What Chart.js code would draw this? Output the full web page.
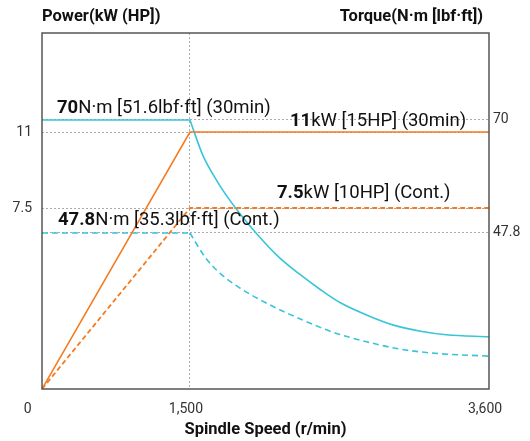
<!DOCTYPE html>
<html>
<head>
<meta charset="utf-8">
<script src="https://cdn.jsdelivr.net/npm/chart.js@4.4.0/dist/chart.umd.min.js"></script>
<style>
  html, body { margin: 0; padding: 0; background: #fff; }
</style>
</head>
<body>
<canvas id="spindleChart" width="530" height="441"></canvas>
<script>
// spindle output: power (left axis) and torque (right axis) against speed
var speedTicks = [0, 1500, 3600];
var speedLabels = ['0\u00a0\u00a0\u00a0\u00a0\u00a0\u00a0', '1,500', '3,600'];
var powerTicks = [7.5, 11];
var torqueTicks = [47.8, 70];

var powerSpeed = [0, 1500, 3600];
var power30min = [0, 11, 11];
var powerCont = [0, 7.5, 7.5];

var torque30Speed = [0, 1500, 1590, 1690, 1815, 1970, 2130, 2270, 2410, 2550, 2740, 2930, 3120, 3300, 3600];
var torque30min = [70, 70, 63.1, 58.0, 52.9, 47.6, 42.9, 39.7, 36.8, 34.2, 31.7, 29.7, 28.5, 27.8, 27.4];
var torqueContSpeed = [0, 1500, 1605, 1710, 1850, 2025, 2275, 2505, 2745, 2975, 3205, 3600];
var torqueCont = [47.8, 47.8, 43.1, 39.9, 37.0, 34.2, 30.9, 28.3, 26.4, 25.0, 24.2, 23.6];

var ORANGE = '#f47b20';
var CYAN = '#38c5d8';
var FONT = 'Roboto';

// the drawing is schematic: speed and power axes are not evenly spaced
var axisBreaks = {
  x: [[0, 0], [1500, 0.331], [3600, 1]],
  yPower: [[0, 0], [7.5, 0.5084], [11, 0.7219], [15.56, 1]]
};

class PiecewiseScale extends Chart.LinearScale {
  toDecimal(v) {
    var a = axisBreaks[this.id];
    for (var i = 1; i < a.length; i++) {
      if (v <= a[i][0] || i === a.length - 1) {
        var t = (v - a[i - 1][0]) / (a[i][0] - a[i - 1][0]);
        return a[i - 1][1] + t * (a[i][1] - a[i - 1][1]);
      }
    }
    return 0;
  }
  getPixelForValue(v) {
    if (v === null || v === undefined) return NaN;
    return this.getPixelForDecimal(this.toDecimal(v));
  }
  getValueForPixel(p) {
    var d = this.getDecimalForPixel(p);
    var a = axisBreaks[this.id];
    for (var i = 1; i < a.length; i++) {
      if (d <= a[i][1] || i === a.length - 1) {
        var t = (d - a[i - 1][1]) / (a[i][1] - a[i - 1][1]);
        return a[i - 1][0] + t * (a[i][0] - a[i - 1][0]);
      }
    }
    return 0;
  }
}
PiecewiseScale.id = 'piecewise';
PiecewiseScale.defaults = { ticks: { callback: function (v) { return String(v); } } };
Chart.register(PiecewiseScale);

function pts(xs, ys, from, to) {
  return xs.slice(from, to).map(function (x, i) { return { x: x, y: ys[from + i] }; });
}
function setTicks(values) {
  return function (scale) { scale.ticks = values.map(function (v) { return { value: v }; }); };
}

var gridDots = { color: '#aaaaaa', lineWidth: 1, drawTicks: false };

var framePlugin = {
  id: 'frame',
  afterDatasetsDraw: function (chart) {
    var c = chart.ctx, a = chart.chartArea;
    var xs = chart.scales.x, yp = chart.scales.yPower, yt = chart.scales.yTorque;
    c.save();
    c.strokeStyle = '#555';
    c.lineWidth = 1.5;
    c.strokeRect(a.left, a.top, a.right - a.left, a.bottom - a.top);

    // axis headers
    c.fillStyle = '#111';
    c.font = 'bold 16.5px ' + FONT;
    c.textBaseline = 'alphabetic';
    c.textAlign = 'left';
    c.fillText('Power(kW (HP])', a.left, 21);
    c.textAlign = 'right';
    c.fillText('Torque(N·m [lbf·ft])', a.right - 6, 21);

    // rating notes
    function rich(x, y, parts) {
      c.textAlign = 'left';
      parts.forEach(function (p) {
        c.font = (p[1] ? 'bold ' : '') + '18.5px ' + FONT;
        c.fillText(p[0], x, y);
        x += c.measureText(p[0]).width;
      });
    }
    var x0 = xs.getPixelForValue(0), x15 = xs.getPixelForValue(1500);
    rich(x0 + 15, yt.getPixelForValue(70) - 7, [['70', true], ['N·m [51.6lbf·ft] (30min)', false]]);
    rich(x15 + 100, yp.getPixelForValue(11) - 6, [['11', true], ['kW [15HP] (30min)', false]]);
    rich(x15 + 87, yp.getPixelForValue(7.5) - 10, [['7.5', true], ['kW [10HP] (Cont.)', false]]);
    rich(x0 + 16, yt.getPixelForValue(47.8) - 8, [['47.8', true], ['N·m [35.3lbf·ft] (Cont.)', false]]);
    c.restore();
  }
};

new Chart(document.getElementById('spindleChart'), {
  type: 'line',
  data: {
    datasets: [
      { label: 'Power 30min', data: pts(powerSpeed, power30min, 0), borderColor: ORANGE, borderWidth: 1.6, yAxisID: 'yPower' },
      { label: 'Power cont.', data: pts(powerSpeed, powerCont, 0), borderColor: ORANGE, borderWidth: 1.8, borderDash: [5, 3], yAxisID: 'yPower' },
      { label: 'Torque 30min', data: pts(torque30Speed, torque30min, 0, 2), borderColor: CYAN, borderWidth: 1.6, yAxisID: 'yTorque' },
      { label: 'Torque 30min curve', data: pts(torque30Speed, torque30min, 1), borderColor: CYAN, borderWidth: 1.6, cubicInterpolationMode: 'monotone', yAxisID: 'yTorque' },
      { label: 'Torque cont.', data: pts(torqueContSpeed, torqueCont, 0, 2), borderColor: CYAN, borderWidth: 1.6, borderDash: [6, 4], yAxisID: 'yTorque' },
      { label: 'Torque cont. curve', data: pts(torqueContSpeed, torqueCont, 1), borderColor: CYAN, borderWidth: 1.6, borderDash: [6, 4], cubicInterpolationMode: 'monotone', yAxisID: 'yTorque' }
    ]
  },
  options: {
    responsive: false,
    animation: false,
    layout: { padding: { top: 33, left: 0, right: 0, bottom: 0 } },
    elements: { point: { radius: 0 }, line: { tension: 0 } },
    plugins: { legend: { display: false }, tooltip: { enabled: false } },
    scales: {
      x: {
        type: 'piecewise', min: 0, max: 3600,
        afterBuildTicks: setTicks(speedTicks),
        afterFit: function (s) { s.height = 52; },
        grid: Object.assign({}, gridDots, {
          color: function (ctx) { return ctx.tick && ctx.tick.value === 1500 ? '#aaaaaa' : 'rgba(0,0,0,0)'; }
        }),
        border: { display: false, dash: [2, 2] },
        ticks: {
          padding: 12, labelOffset: -4, color: '#333', font: { family: FONT, size: 14 }, maxRotation: 0,
          callback: function (v, i) { return speedLabels[i]; }
        },
        title: { display: true, text: 'Spindle Speed (r/min)', color: '#111', font: { family: FONT, size: 16.5, weight: 'bold' }, padding: { top: 0, bottom: 1 } }
      },
      yPower: {
        type: 'piecewise', position: 'left', min: 0, max: 15.56,
        afterBuildTicks: setTicks(powerTicks),
        afterFit: function (s) { s.width = 42; },
        grid: gridDots,
        border: { display: false, dash: [2, 2] },
        ticks: { padding: 10, color: '#333', font: { family: FONT, size: 14 } }
      },
      yTorque: {
        type: 'linear', position: 'right', min: 17.15, max: 87.09,
        afterBuildTicks: setTicks(torqueTicks),
        afterFit: function (s) { s.width = 41; },
        grid: gridDots,
        border: { display: false, dash: [2, 2] },
        ticks: { padding: 4, color: '#333', font: { family: FONT, size: 14 }, callback: function (v) { return String(v); } }
      }
    }
  },
  plugins: [framePlugin]
});
</script>
</body>
</html>
